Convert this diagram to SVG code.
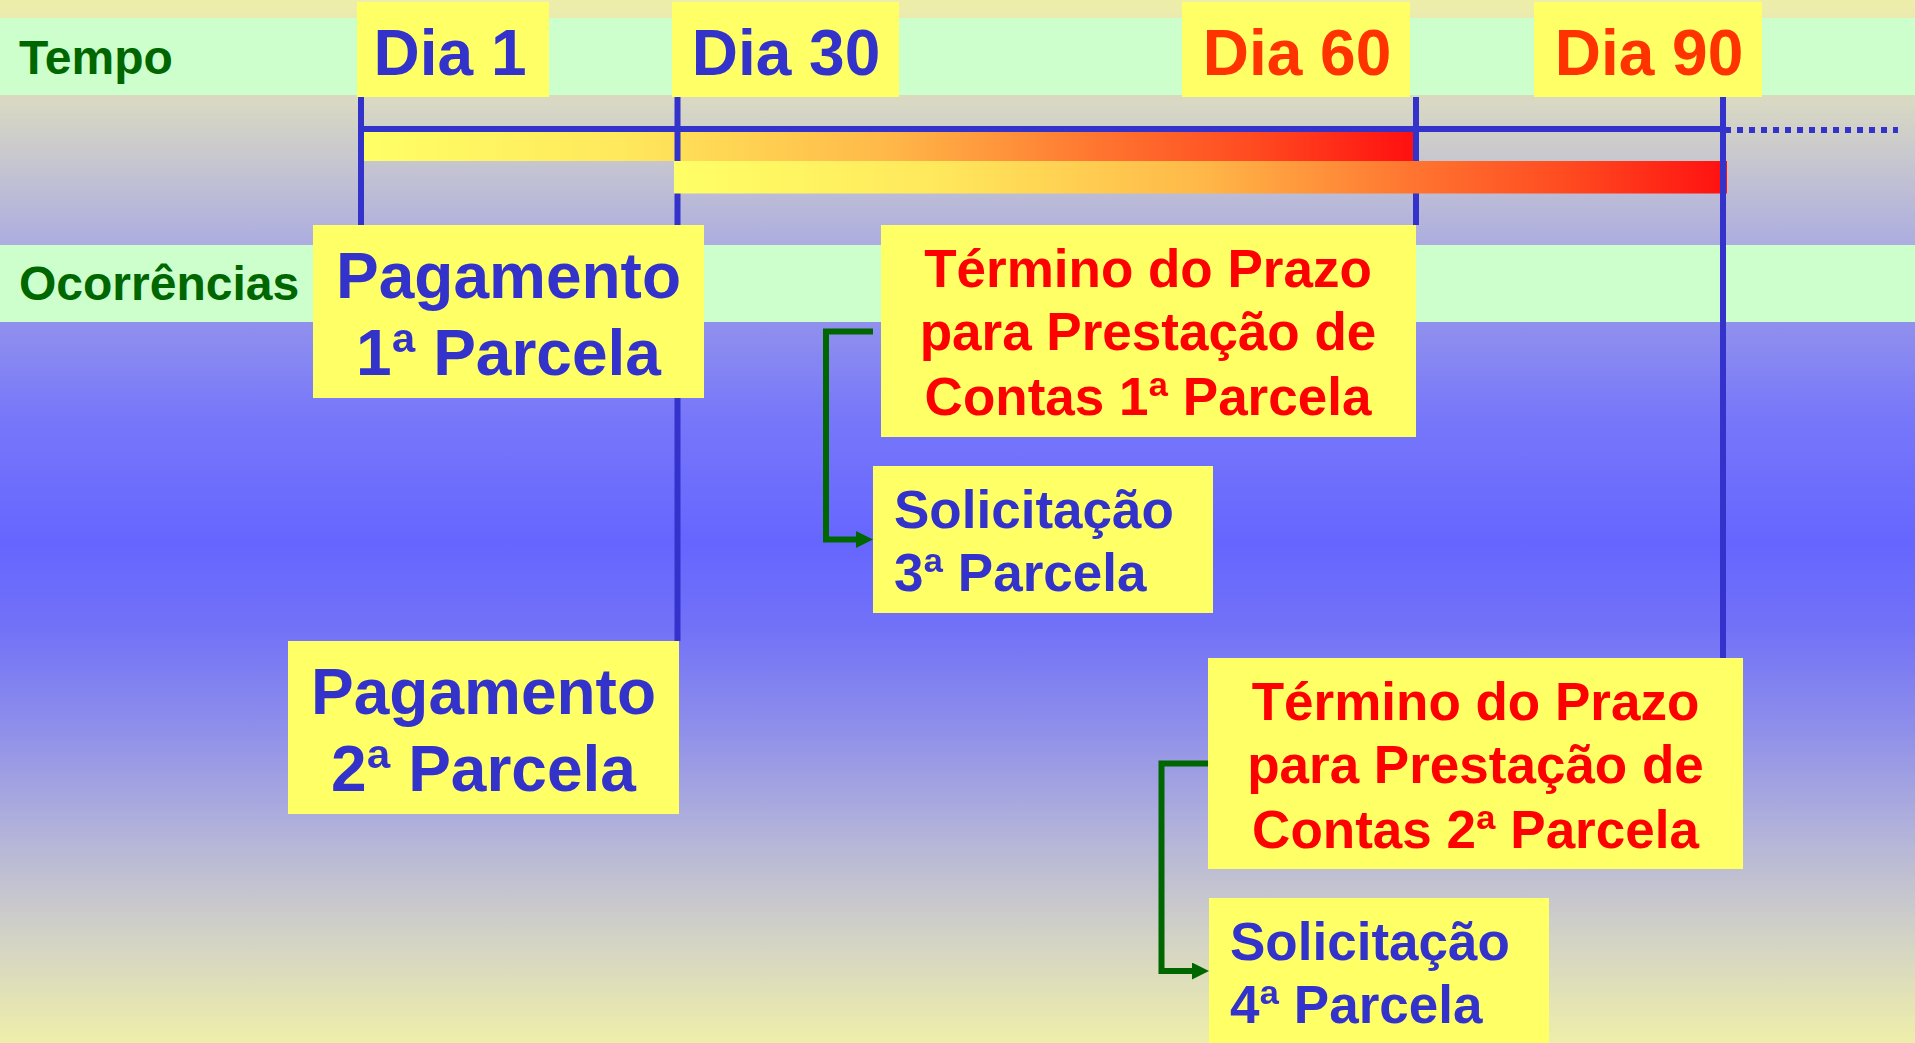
<svg xmlns="http://www.w3.org/2000/svg" width="1915" height="1043" viewBox="0 0 1915 1043">
<defs>
<linearGradient id="bg" x1="0" y1="0" x2="0" y2="1">
<stop offset="0" stop-color="#EEEEAA"/>
<stop offset="0.1" stop-color="#D8D8C4"/>
<stop offset="0.23" stop-color="#AEAEE0"/>
<stop offset="0.31" stop-color="#9090EE"/>
<stop offset="0.4" stop-color="#7777FA"/>
<stop offset="0.52" stop-color="#6666FF"/>
<stop offset="0.6" stop-color="#7171F8"/>
<stop offset="0.7" stop-color="#8F8FEA"/>
<stop offset="0.8" stop-color="#B3B3DA"/>
<stop offset="0.9" stop-color="#D3D3C6"/>
<stop offset="1" stop-color="#EEEEAA"/>
</linearGradient>
<linearGradient id="bar" x1="0" y1="0" x2="1" y2="0">
<stop offset="0" stop-color="#FFFF66"/>
<stop offset="0.25" stop-color="#FFE85C"/>
<stop offset="0.5" stop-color="#FFB848"/>
<stop offset="0.7" stop-color="#FF7530"/>
<stop offset="0.85" stop-color="#FF4A20"/>
<stop offset="1" stop-color="#FF1010"/>
</linearGradient>
<marker id="arr" markerUnits="userSpaceOnUse" markerWidth="18" markerHeight="18" refX="0" refY="8.5" orient="auto">
<path d="M0,0 L17,8.5 L0,17 Z" fill="#006600"/>
</marker>
<style>
text{font-family:"Liberation Sans",Arial,sans-serif;font-weight:bold}
.box{fill:#FFFF66}
.band{fill:#CCFFCC}
.vl{stroke:#3333CC;stroke-width:6}
.lbl{fill:#006600;font-size:48px}
.day{font-size:64px;text-anchor:middle}
.blue{fill:#3333CC}
.org{fill:#FF3300}
.red{fill:#FF0000}
.pg{font-size:64px;text-anchor:middle}
.tm{font-size:53px;text-anchor:middle}
.sl{font-size:53px}
.conn{fill:none;stroke:#006600;stroke-width:6}
</style>
</defs>
<rect x="0" y="0" width="1915" height="1043" fill="url(#bg)"/>
<rect class="band" x="0" y="18" width="1915" height="77"/>
<rect class="band" x="0" y="245" width="1915" height="77"/>
<text class="lbl" x="19" y="74">Tempo</text>
<text class="lbl" x="19" y="300">Ocorrências</text>

<g id="timeline">
<rect x="364" y="132" width="1049" height="29" fill="url(#bar)"/>
<line x1="361" y1="129" x2="1723" y2="129" stroke="#3333CC" stroke-width="6"/>
<line x1="1725" y1="130" x2="1898" y2="130" stroke="#3333CC" stroke-width="6" stroke-dasharray="6 6"/>
<line class="vl" x1="361" y1="97" x2="361" y2="225"/>
<line class="vl" x1="677.5" y1="97" x2="677.5" y2="641"/>
<line class="vl" x1="1416" y1="97" x2="1416" y2="225"/>
<rect x="674" y="161" width="1053" height="32.5" fill="url(#bar)"/>
<line class="vl" x1="1723" y1="97" x2="1723" y2="658"/>
</g>

<g id="dia1"><rect class="box" x="357" y="2" width="192" height="95"/><text class="day blue" x="450" y="75">Dia 1</text></g>
<g id="dia30"><rect class="box" x="672" y="2" width="227" height="95"/><text class="day blue" x="786" y="75">Dia 30</text></g>
<g id="dia60"><rect class="box" x="1182" y="2" width="228" height="95"/><text class="day org" x="1297" y="75">Dia 60</text></g>
<g id="dia90"><rect class="box" x="1534" y="2" width="228" height="95"/><text class="day org" x="1649" y="75">Dia 90</text></g>

<g id="pag1"><rect class="box" x="313" y="225" width="391" height="173"/><text class="pg blue" x="508.5" y="298">Pagamento</text><text class="pg blue" x="508.5" y="375">1ª Parcela</text></g>
<g id="pag2"><rect class="box" x="288" y="641" width="391" height="173"/><text class="pg blue" x="483.5" y="714">Pagamento</text><text class="pg blue" x="483.5" y="791">2ª Parcela</text></g>

<g id="term1"><rect class="box" x="881" y="225" width="535" height="212"/>
<text class="tm red" x="1148" y="287">Término do Prazo</text>
<text class="tm red" x="1148" y="350">para Prestação de</text>
<text class="tm red" x="1148" y="415">Contas 1ª Parcela</text></g>
<g id="term2"><rect class="box" x="1208" y="658" width="535" height="211"/>
<text class="tm red" x="1475.5" y="720">Término do Prazo</text>
<text class="tm red" x="1475.5" y="783">para Prestação de</text>
<text class="tm red" x="1475.5" y="848">Contas 2ª Parcela</text></g>

<g id="sol3"><rect class="box" x="873" y="466" width="340" height="147"/>
<text class="sl blue" x="894" y="528">Solicitação</text>
<text class="sl blue" x="894" y="591">3ª Parcela</text></g>
<g id="sol4"><rect class="box" x="1209" y="898" width="340" height="147"/>
<text class="sl blue" x="1230" y="960">Solicitação</text>
<text class="sl blue" x="1230" y="1023">4ª Parcela</text></g>

<g id="connectors">
<path class="conn" d="M873,331.5 H826 V539.5 H856" marker-end="url(#arr)"/>
<path class="conn" d="M1208,763.5 H1161.5 V971 H1192" marker-end="url(#arr)"/>
</g>
</svg>
